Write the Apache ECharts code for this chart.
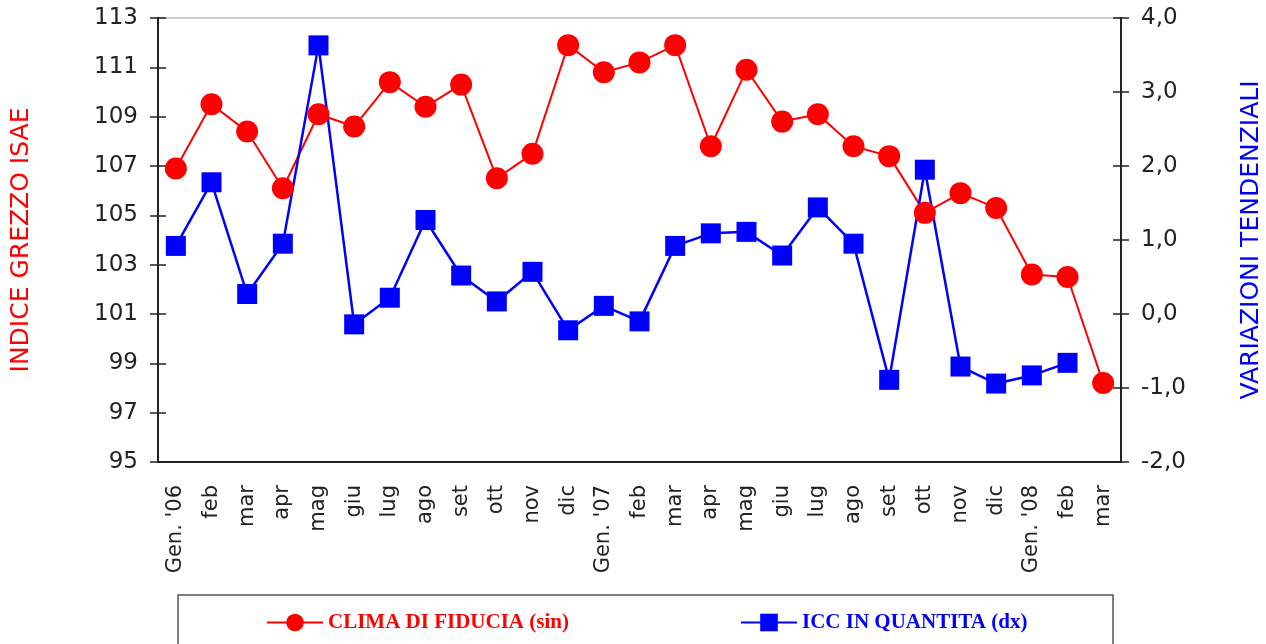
<!DOCTYPE html>
<html>
<head>
<meta charset="utf-8">
<script src="https://cdn.jsdelivr.net/npm/echarts@6/dist/echarts.min.js"></script>
<style>
  html, body { margin: 0; padding: 0; background: #fff; }
  #chart { width: 1266px; height: 644px; }
</style>
</head>
<body>
<div id="chart"></div>
<script>
// mesi (gen '06 - mar '08)
const months = ["Gen. '06", 'feb', 'mar', 'apr', 'mag', 'giu', 'lug', 'ago', 'set', 'ott', 'nov', 'dic',
  "Gen. '07", 'feb', 'mar', 'apr', 'mag', 'giu', 'lug', 'ago', 'set', 'ott', 'nov', 'dic',
  "Gen. '08", 'feb', 'mar'];

// clima di fiducia - indice grezzo (asse sinistro)
const clima = [106.9, 109.5, 108.4, 106.1, 109.1, 108.6, 110.4, 109.4, 110.3, 106.5, 107.5, 111.9,
  110.8, 111.2, 111.9, 107.8, 110.9, 108.8, 109.1, 107.8, 107.4, 105.1, 105.9, 105.3,
  102.6, 102.5, 98.2];

// ICC in quantita - variazioni tendenziali (asse destro)
const icc = [0.92, 1.78, 0.27, 0.95, 3.63, -0.14, 0.22, 1.27, 0.52, 0.17, 0.57, -0.22,
  0.11, -0.10, 0.92, 1.09, 1.11, 0.79, 1.44, 0.95, -0.89, 1.95, -0.71, -0.94,
  -0.83, -0.66, null];

const nameClima = 'CLIMA DI FIDUCIA (sin)';
const nameIcc = 'ICC IN QUANTITA (dx)';

const RED = '#ff0000';
const BLUE = '#0000ff';
const AXIS = '#222';
const FONT = 'DejaVu Sans';

const chart = echarts.init(document.getElementById('chart'));

const tickLabel = { color: AXIS, fontSize: 23, fontFamily: FONT, margin: 20 };

chart.setOption({
  animation: false,
  grid: {
    left: 158, right: 145, top: 18, bottom: 182,
    outerBoundsMode: 'none',
    show: true, borderColor: '#999', borderWidth: 1
  },
  legend: [{
    left: 261, top: 607,
    itemWidth: 56, itemHeight: 22, itemGap: 20,
    data: [nameClima],
    textStyle: { color: RED, fontSize: 21, fontWeight: 'bold', fontFamily: 'Liberation Serif' }
  }, {
    left: 735, top: 607,
    itemWidth: 56, itemHeight: 22,
    data: [nameIcc],
    textStyle: { color: BLUE, fontSize: 21, fontWeight: 'bold', fontFamily: 'Liberation Serif' }
  }],
  graphic: [{
    type: 'rect',
    shape: { x: 178, y: 595, width: 935, height: 70 },
    style: { fill: 'none', stroke: '#555', lineWidth: 1.5 },
    silent: true
  }],
  xAxis: {
    type: 'category',
    data: months,
    boundaryGap: true,
    axisLine: { onZero: false, lineStyle: { color: AXIS, width: 2 } },
    axisTick: { show: false },
    axisLabel: { color: AXIS, fontSize: 21, fontFamily: FONT, rotate: 90, interval: 0, margin: 23 },
    splitLine: { show: false }
  },
  yAxis: [{
    type: 'value', position: 'left',
    min: 95, max: 113, interval: 2,
    name: 'INDICE GREZZO ISAE',
    nameLocation: 'middle', nameRotate: 90, nameGap: 124,
    nameTextStyle: { color: RED, fontSize: 25, fontFamily: FONT },
    axisLine: { show: true, lineStyle: { color: AXIS, width: 2 } },
    axisTick: { show: true, length: 8, lineStyle: { color: AXIS, width: 1.5 } },
    axisLabel: tickLabel,
    splitLine: { show: false }
  }, {
    type: 'value', position: 'right',
    min: -2, max: 4, interval: 1,
    name: 'VARIAZIONI TENDENZIALI',
    nameLocation: 'middle', nameRotate: 90, nameGap: 118,
    nameTextStyle: { color: BLUE, fontSize: 25, fontFamily: FONT },
    axisLine: { show: true, lineStyle: { color: AXIS, width: 2 } },
    axisTick: { show: true, length: 8, lineStyle: { color: AXIS, width: 1.5 } },
    axisLabel: Object.assign({}, tickLabel, {
      formatter: v => v.toFixed(1).replace('.', ',')
    }),
    splitLine: { show: false }
  }, {
    // tacche interne asse sinistro
    type: 'value', position: 'left',
    min: 95, max: 113, interval: 2,
    axisLine: { show: false },
    axisTick: { show: true, inside: true, length: 8, lineStyle: { color: AXIS, width: 1.5 } },
    axisLabel: { show: false },
    splitLine: { show: false }
  }, {
    // tacche interne asse destro
    type: 'value', position: 'right',
    min: -2, max: 4, interval: 1,
    axisLine: { show: false },
    axisTick: { show: true, inside: true, length: 8, lineStyle: { color: AXIS, width: 1.5 } },
    axisLabel: { show: false },
    splitLine: { show: false }
  }],
  series: [{
    name: nameClima,
    type: 'line',
    yAxisIndex: 0,
    data: clima,
    symbol: 'circle',
    symbolSize: 22,
    lineStyle: { color: RED, width: 2 },
    itemStyle: { color: RED }
  }, {
    name: nameIcc,
    type: 'line',
    yAxisIndex: 1,
    data: icc,
    symbol: 'rect',
    symbolSize: 20,
    lineStyle: { color: BLUE, width: 2.5 },
    itemStyle: { color: BLUE }
  }]
});
</script>
</body>
</html>
